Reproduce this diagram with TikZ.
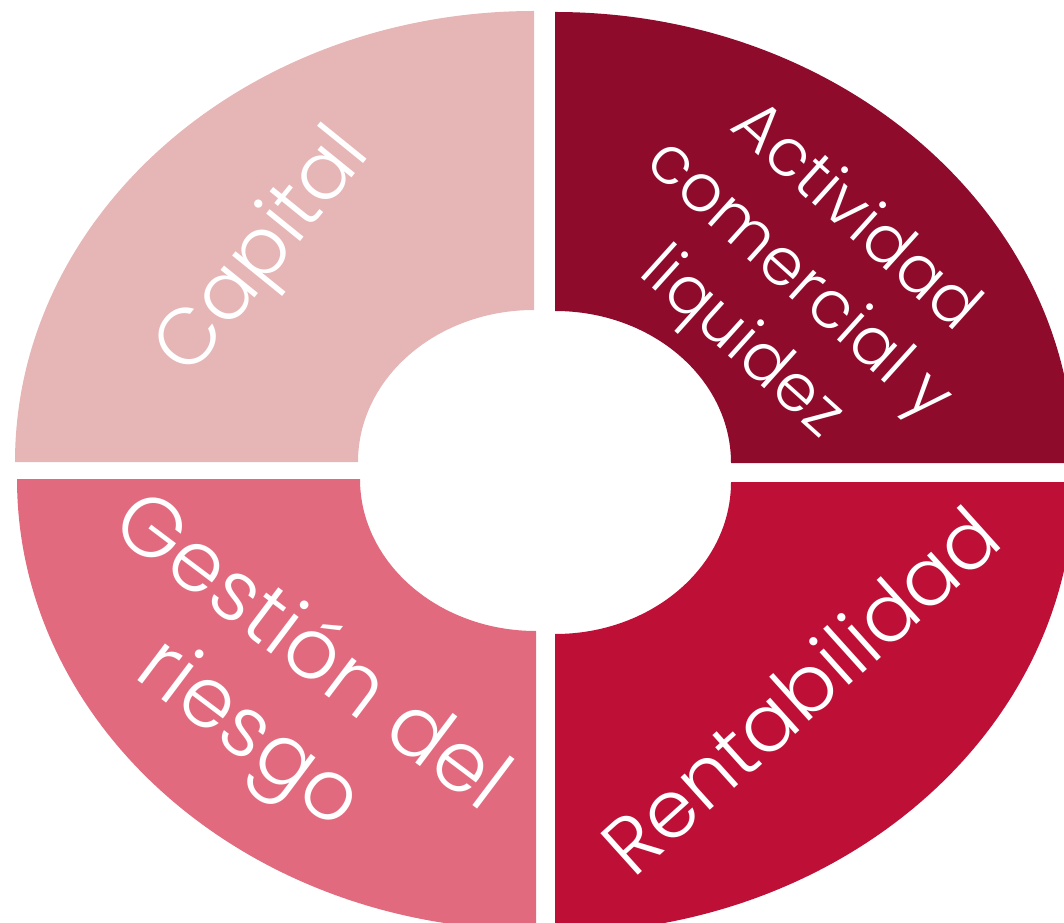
\documentclass[tikz,border=0pt]{standalone}
\usepackage{fontspec}
\setmainfont{Poppins Light}
\usetikzlibrary{positioning}

\definecolor{capitalcol}{HTML}{E6B5B6}
\definecolor{actividadcol}{HTML}{8F0B2C}
\definecolor{gestioncol}{HTML}{E26A7E}
\definecolor{rentacol}{HTML}{BE0F37}

\begin{document}
\begin{tikzpicture}[x=1pt, y=1pt,
    quarter/.style={draw=none},
    bigtext/.style={text=white, align=center, inner sep=0pt, font=\fontsize{80}{102}\selectfont},
    smalltext/.style={text=white, align=center, inner sep=0pt, font=\fontsize{66}{85}\selectfont}]

\useasboundingbox (0,0) rectangle (1064,922);
\clip (0,0) rectangle (1064,922);

% Quarter rings
\fill[quarter, capitalcol] (534-519,460) arc (180:90:519 and 451) -- (534,460+152) arc (90:180:176 and 152) -- cycle;
\fill[quarter, actividadcol] (555,459+451) arc (90:0:519 and 451) -- (555+176,459) arc (0:90:176 and 152) -- cycle;
\fill[quarter, gestioncol] (536-519,443) arc (180:270:519 and 451) -- (536,443-152) arc (270:180:176 and 152) -- cycle;
\fill[quarter, rentacol] (555,440-451) arc (270:360:519 and 451) -- (555+176,440) arc (360:270:176 and 152) -- cycle;

% Labels
\node[bigtext, rotate=51] (capital) at (265,668) {Capital};
\node[smalltext, rotate=-42] (actividad) at (797,640) {Actividad\\comercial y\\liquidez};
\node[bigtext, rotate=-37, font=\fontsize{84}{102}\selectfont] (gestion) at (278,226) {Gestión del\\riesgo};
\node[bigtext, rotate=42] (renta) at (800,232) {Rentabilidad};

\end{tikzpicture}
\end{document}
